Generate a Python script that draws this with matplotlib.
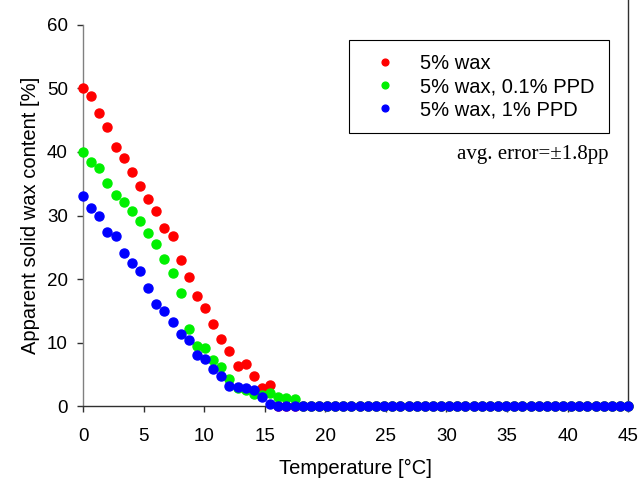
import matplotlib
matplotlib.use("Agg")
import matplotlib.pyplot as plt

plt.rcParams['font.family'] = ['Liberation Sans', 'DejaVu Sans']

# temperature grid [°C]
temperature = [0.00, 0.67, 1.34, 2.01, 2.69, 3.36, 4.03, 4.70, 5.37, 6.04,
               6.72, 7.39, 8.06, 8.73, 9.40, 10.07, 10.75, 11.42, 12.09, 12.76,
               13.43, 14.10, 14.78, 15.45, 16.12, 16.79, 17.46, 18.13, 18.81, 19.48,
               20.15, 20.82, 21.49, 22.16, 22.84, 23.51, 24.18, 24.85, 25.52, 26.19,
               26.87, 27.54, 28.21, 28.88, 29.55, 30.22, 30.90, 31.57, 32.24, 32.91,
               33.58, 34.25, 34.93, 35.60, 36.27, 36.94, 37.61, 38.28, 38.96, 39.63,
               40.30, 40.97, 41.64, 42.31, 42.99, 43.66, 44.33, 45.00]

# apparent solid wax content [%]
wax_5 = [50.0, 48.8, 46.2, 44.0, 40.8, 39.0, 36.9, 34.6, 32.6, 30.7,
         28.1, 26.7, 23.0, 20.3, 17.3, 15.5, 13.0, 10.6, 8.7, 6.3,
         6.7, 4.7, 2.9, 3.3] + [0.0] * 44
wax_5_ppd01 = [40.0, 38.4, 37.5, 35.1, 33.3, 32.1, 30.7, 29.1, 27.2, 25.5,
               23.1, 20.9, 17.8, 12.1, 9.4, 9.2, 7.2, 6.1, 4.2, 2.9,
               2.6, 1.9, 1.8, 2.0, 1.5, 1.3, 1.1] + [0.0] * 41
wax_5_ppd1 = [33.1, 31.2, 29.9, 27.4, 26.7, 24.1, 22.6, 21.2, 18.6, 16.1,
              15.0, 13.3, 11.3, 10.4, 8.0, 7.4, 5.8, 4.7, 3.2, 3.0,
              2.8, 2.5, 1.5, 0.4] + [0.0] * 44

series = [(wax_5, '#FF0000', '5% wax'),
          (wax_5_ppd01, '#00F000', '5% wax, 0.1% PPD'),
          (wax_5_ppd1, '#0000FF', '5% wax, 1% PPD')]

fig = plt.figure(figsize=(6.41, 4.8), dpi=100)
ax = fig.add_axes([0.1295, 0.154, 0.8505, 0.794])

for vals, col, lab in series:
    ax.plot(temperature, vals, ls='none', marker='o', markersize=6.5,
            markerfacecolor=col, markeredgecolor=col, label=lab,
            clip_on=False, zorder=3)

ax.set_xlim(0, 45)
ax.set_ylim(0, 60)
ax.set_xticks(range(0, 46, 5))
ax.set_yticks(range(0, 61, 10))
ax.spines['top'].set_visible(False)
ax.spines['left'].set_color('#808080')
ax.spines['right'].set_color('#303030')
ax.spines['right'].set_bounds(0, 63.9)
ax.spines['bottom'].set_color('#303030')
for s in ax.spines.values():
    s.set_linewidth(1.0)
ax.tick_params(axis='x', direction='out', length=4, width=1, pad=12,
               labelsize=13.5, colors='#303030', labelcolor='black')
ax.tick_params(axis='y', direction='out', length=4, width=1, pad=7,
               labelsize=13.5, colors='#303030', labelcolor='black')

ax.set_xlabel('Temperature [°C]', fontsize=14.5, labelpad=10)
ax.set_ylabel('Apparent solid wax content [%]', fontsize=14.5, labelpad=5)

leg = ax.legend(loc='upper right', bbox_to_anchor=(609 / 641, 1 - 40 / 480),
                bbox_transform=fig.transFigure, borderaxespad=0, fontsize=14.5,
                frameon=True, fancybox=False, framealpha=1, edgecolor='black',
                borderpad=0.7, handletextpad=0.65, labelspacing=0.2,
                handlelength=2.2, markerscale=0.75)
leg.get_frame().set_linewidth(0.8)

ax.text(0.963, 0.661, 'avg. error=±1.8pp', transform=ax.transAxes,
        ha='right', va='center', fontsize=15, family='Liberation Serif')

fig.savefig('out.png', dpi=100)
